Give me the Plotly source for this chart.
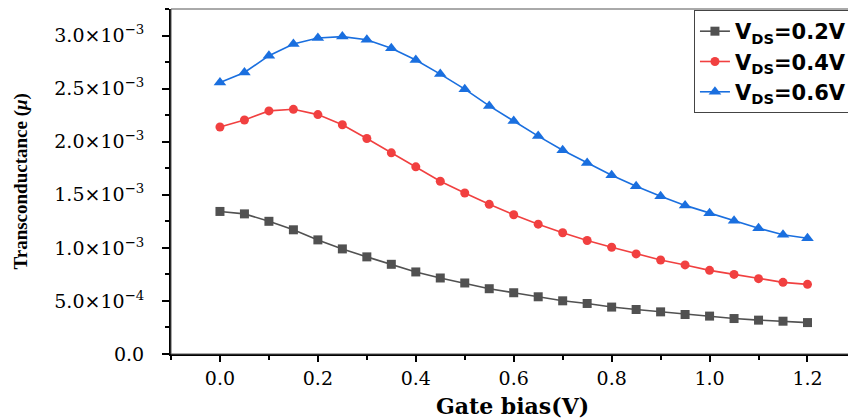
import plotly.graph_objects as go

gate_bias = [0.0, 0.05, 0.1, 0.15, 0.2, 0.25, 0.3, 0.35, 0.4, 0.45, 0.5, 0.55, 0.6,
             0.65, 0.7, 0.75, 0.8, 0.85, 0.9, 0.95, 1.0, 1.05, 1.1, 1.15, 1.2]

gm_vds_02 = [1.343e-3, 1.32e-3, 1.25e-3, 1.17e-3, 1.075e-3, 0.99e-3, 0.915e-3, 0.845e-3,
             0.773e-3, 0.716e-3, 0.669e-3, 0.615e-3, 0.577e-3, 0.539e-3, 0.501e-3,
             0.476e-3, 0.442e-3, 0.419e-3, 0.397e-3, 0.372e-3, 0.357e-3, 0.334e-3,
             0.319e-3, 0.309e-3, 0.296e-3]

gm_vds_04 = [2.138e-3, 2.204e-3, 2.29e-3, 2.305e-3, 2.255e-3, 2.16e-3, 2.03e-3, 1.895e-3,
             1.763e-3, 1.627e-3, 1.517e-3, 1.41e-3, 1.312e-3, 1.223e-3, 1.142e-3,
             1.069e-3, 1.006e-3, 0.943e-3, 0.886e-3, 0.839e-3, 0.788e-3, 0.75e-3,
             0.71e-3, 0.675e-3, 0.656e-3]

gm_vds_06 = [2.557e-3, 2.652e-3, 2.81e-3, 2.92e-3, 2.977e-3, 2.99e-3, 2.96e-3, 2.88e-3,
             2.77e-3, 2.637e-3, 2.495e-3, 2.337e-3, 2.195e-3, 2.053e-3, 1.92e-3,
             1.80e-3, 1.684e-3, 1.58e-3, 1.485e-3, 1.40e-3, 1.327e-3, 1.255e-3,
             1.185e-3, 1.123e-3, 1.091e-3]

series_names = ["<b>V<sub>DS</sub>=0.2V</b>", "<b>V<sub>DS</sub>=0.4V</b>", "<b>V<sub>DS</sub>=0.6V</b>"]

y_tick_values = [0.0, 5e-4, 1e-3, 1.5e-3, 2e-3, 2.5e-3, 3e-3]
y_tick_labels = ["0.0", "5.0×10<sup>−4</sup>", "1.0×10<sup>−3</sup>", "1.5×10<sup>−3</sup>",
                 "2.0×10<sup>−3</sup>", "2.5×10<sup>−3</sup>", "3.0×10<sup>−3</sup>"]
x_tick_values = [0.0, 0.2, 0.4, 0.6, 0.8, 1.0, 1.2]
x_tick_labels = ["0.0", "0.2", "0.4", "0.6", "0.8", "1.0", "1.2"]

colors = ["#515151", "#F14040", "#1A6FDF"]
symbols = ["square", "circle", "triangle-up"]
sizes = [9, 9, 11]

fig = go.Figure()
for vals, name, c, s, sz in zip([gm_vds_02, gm_vds_04, gm_vds_06], series_names, colors, symbols, sizes):
    fig.add_trace(go.Scatter(
        x=gate_bias, y=vals, name=name, mode="lines+markers",
        line=dict(color=c, width=1.6),
        marker=dict(symbol=s, size=sz, color=c, line=dict(width=0)),
    ))

# page body has an 8px margin, so the figure is sized/placed to compensate
fig.update_layout(
    width=848, height=412,
    margin=dict(l=163, r=2, t=1, b=66, autoexpand=False),
    paper_bgcolor="white", plot_bgcolor="white",
    showlegend=True,
    legend=dict(
        x=0.997, y=0.997, xanchor="right", yanchor="top",
        bordercolor="#444", borderwidth=1, bgcolor="white",
        font=dict(family="DejaVu Sans", size=21, color="black"),
        tracegroupgap=0,
    ),
    font=dict(family="DejaVu Serif", color="black"),
)

fig.update_xaxes(
    range=[-0.1, 1.295], automargin=False,
    tickvals=x_tick_values, ticktext=x_tick_labels,
    ticks="outside", ticklen=6, tickwidth=2, tickcolor="black",
    minor=dict(dtick=0.1, tick0=0, ticks="outside", ticklen=4, tickwidth=1.5, tickcolor="black"),
    showline=True, linewidth=2, linecolor="black",
    showgrid=False, zeroline=False,
    tickfont=dict(family="DejaVu Serif", size=19, color="black"),
)
fig.update_yaxes(
    range=[0, 3.25e-3], automargin=False,
    tickvals=y_tick_values, ticktext=y_tick_labels,
    ticks="outside", ticklen=7, tickwidth=2, tickcolor="black",
    minor=dict(dtick=2.5e-4, tick0=0, ticks="outside", ticklen=4, tickwidth=1.5, tickcolor="black"),
    showline=True, linewidth=2, linecolor="black",
    showgrid=False, zeroline=False, ticklabelstandoff=14,
    tickfont=dict(family="DejaVu Serif", size=19, color="black"),
)

fig.add_annotation(
    text="<b>Transconductance (<i>μ</i>)</b>", textangle=-90,
    xref="paper", yref="paper", x=-0.221, y=0.5, xanchor="center", yanchor="middle",
    showarrow=False, font=dict(family="Liberation Serif", size=19, color="black"),
)
fig.add_annotation(
    text="<b>Gate bias(V)</b>",
    xref="paper", yref="paper", x=0.5, y=-0.151, xanchor="center", yanchor="middle",
    showarrow=False, font=dict(family="DejaVu Serif", size=22, color="black"),
)

fig.add_shape(type="rect", xref="paper", yref="paper", x0=0, y0=0, x1=1, y1=1,
              line=dict(color="#555", width=1), layer="above")

fig.write_html("out.html")
